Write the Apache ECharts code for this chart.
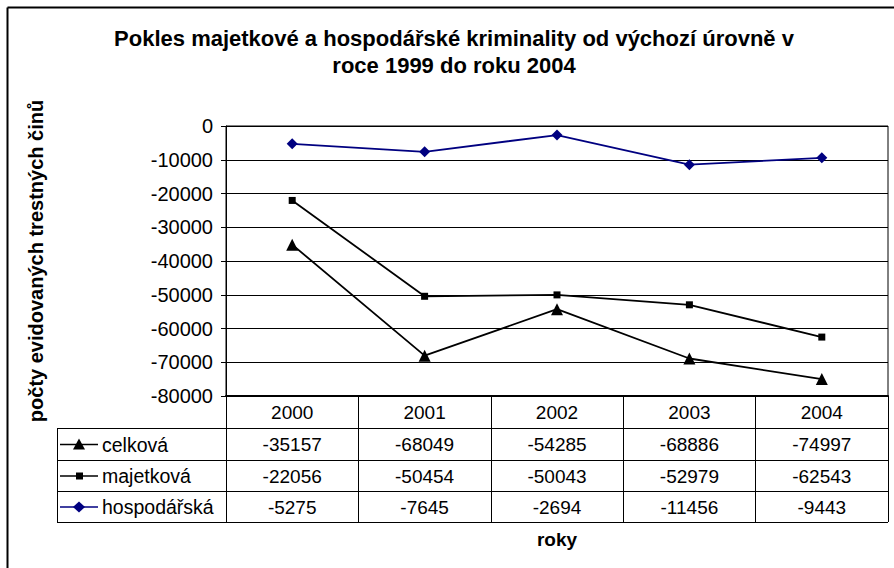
<!DOCTYPE html>
<html>
<head>
<meta charset="utf-8">
<script src="https://cdn.jsdelivr.net/npm/echarts@6/dist/echarts.min.js"></script>
<style>
  html, body { margin: 0; padding: 0; background: #fff; }
  #chart { width: 894px; height: 568px; }
</style>
</head>
<body>
<div id="chart"></div>
<script>
const years = ['2000', '2001', '2002', '2003', '2004']
const celkova = [-35157, -68049, -54285, -68886, -74997]
const majetkova = [-22056, -50454, -50043, -52979, -62543]
const hospodarska = [-5275, -7645, -2694, -11456, -9443]

const seriesNames = ['celková', 'majetková', 'hospodářská']
const seriesData = [celkova, majetkova, hospodarska]
const seriesColors = ['#000000', '#000000', '#000080']
const seriesSymbols = ['triangle', 'rect', 'diamond']
const symbolSizes = [12, 7, 11]

const font = "'Liberation Sans', Arial, sans-serif"
const plotLeft = 226
const plotRight = 888
const plotTop = 126
const plotBottom = 396
// spodní hranice řádků tabulky pod grafem
const rowLines = [428, 460, 491, 522]
const tableLeft = 57

const chart = echarts.init(document.getElementById('chart'), null, { renderer: 'svg' })

const option = {
  animation: false,
  backgroundColor: '#fff',
  grid: {
    left: plotLeft,
    right: 894 - plotRight,
    top: plotTop,
    bottom: 568 - plotBottom,
    show: true,
    borderColor: '#000',
    borderWidth: 1
  },
  xAxis: {
    type: 'category',
    data: years,
    boundaryGap: true,
    name: 'roky',
    nameLocation: 'middle',
    nameGap: 134,
    nameTextStyle: { fontFamily: font, fontSize: 19, fontWeight: 'bold', color: '#000' },
    axisLine: { onZero: false, lineStyle: { color: '#000', width: 2 } },
    axisTick: { show: true, interval: 0, length: rowLines[3] - plotBottom, lineStyle: { color: '#000', width: 1 } },
    axisLabel: { interval: 0, margin: 7, fontFamily: font, fontSize: 19, color: '#000' }
  },
  yAxis: {
    type: 'value',
    min: -80000,
    max: 0,
    interval: 10000,
    name: 'počty evidovaných trestných činů',
    nameLocation: 'middle',
    nameRotate: 90,
    nameGap: 180,
    nameTextStyle: { fontFamily: font, fontSize: 20, fontWeight: 'bold', color: '#000' },
    axisLine: { show: true, lineStyle: { color: '#000', width: 1 } },
    axisTick: { show: true, length: 5, lineStyle: { color: '#000' } },
    axisLabel: { margin: 13, fontFamily: font, fontSize: 20, color: '#000', formatter: v => String(v) },
    splitLine: { lineStyle: { color: '#000', width: 1 } }
  },
  series: seriesNames.map((name, i) => ({
    name: name,
    type: 'line',
    data: seriesData[i],
    symbol: seriesSymbols[i],
    symbolSize: symbolSizes[i],
    lineStyle: { color: seriesColors[i], width: 1.8 },
    itemStyle: { color: seriesColors[i] }
  }))
}
chart.setOption(option)

// titulek, rámeček a tabulka hodnot pod grafem
const graphics = []
graphics.push({
  type: 'text',
  x: 454,
  y: 25,
  style: {
    text: 'Pokles majetkové a hospodářské kriminality od výchozí úrovně v\nroce 1999 do roku 2004',
    fontFamily: font,
    fontSize: 22,
    fontWeight: 'bold',
    fill: '#000',
    align: 'center',
    lineHeight: 27
  }
})
graphics.push({ type: 'line', shape: { x1: 7.5, y1: 7.5, x2: 894, y2: 7.5 }, style: { stroke: '#000', lineWidth: 2 } })
graphics.push({ type: 'line', shape: { x1: 7.5, y1: 7.5, x2: 7.5, y2: 568 }, style: { stroke: '#000', lineWidth: 2 } })

rowLines.forEach(y => {
  graphics.push({ type: 'line', shape: { x1: tableLeft, y1: y + 0.5, x2: plotRight, y2: y + 0.5 }, style: { stroke: '#000', lineWidth: 1 } })
})
graphics.push({ type: 'line', shape: { x1: tableLeft + 0.5, y1: rowLines[0], x2: tableLeft + 0.5, y2: rowLines[3] + 0.5 }, style: { stroke: '#000', lineWidth: 1 } })

seriesNames.forEach((name, i) => {
  const cy = (rowLines[i] + rowLines[i + 1]) / 2 + 0.5
  graphics.push({ type: 'line', shape: { x1: 60, y1: cy, x2: 98, y2: cy }, style: { stroke: seriesColors[i], lineWidth: 1.5 } })
  let marker
  if (seriesSymbols[i] === 'triangle') {
    marker = { type: 'polygon', shape: { points: [[79, cy - 6], [85, cy + 5], [73, cy + 5]] }, style: { fill: seriesColors[i] } }
  } else if (seriesSymbols[i] === 'rect') {
    marker = { type: 'rect', shape: { x: 76, y: cy - 3.5, width: 7, height: 7 }, style: { fill: seriesColors[i] } }
  } else {
    marker = { type: 'polygon', shape: { points: [[79, cy - 5.5], [85, cy], [79, cy + 5.5], [73, cy]] }, style: { fill: seriesColors[i] } }
  }
  graphics.push(marker)
  graphics.push({
    type: 'text', x: 102, y: cy,
    style: { text: name, fontFamily: font, fontSize: 19.5, fill: '#000', verticalAlign: 'middle', align: 'left' }
  })
  seriesData[i].forEach((v, j) => {
    const cx = chart.convertToPixel({ xAxisIndex: 0 }, years[j])
    graphics.push({
      type: 'text', x: cx, y: cy,
      style: { text: String(v), fontFamily: font, fontSize: 19, fill: '#000', verticalAlign: 'middle', align: 'center' }
    })
  })
})

chart.setOption({ graphic: graphics })
</script>
</body>
</html>
